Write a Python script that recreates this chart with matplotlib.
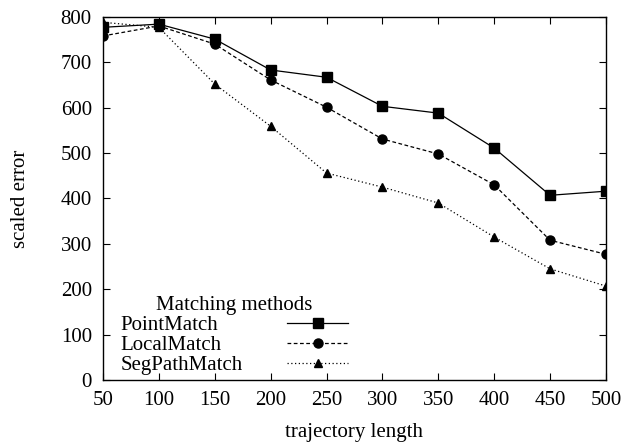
import matplotlib
matplotlib.use('Agg')
import matplotlib.pyplot as plt

plt.rcParams['font.family'] = ['Liberation Serif', 'DejaVu Serif']

lengths = [50, 100, 150, 200, 250, 300, 350, 400, 450, 500]
point_match = [777, 784, 751, 683, 667, 603, 588, 511, 407, 416]
local_match = [758, 780, 740, 661, 601, 531, 498, 430, 308, 277]
segpath_match = [788, 777, 652, 559, 456, 425, 390, 315, 245, 207]

fig = plt.figure(figsize=(6.26, 4.44), dpi=100)
ax = fig.add_axes([0.1645, 0.144, 0.8035, 0.818])

ax.plot(lengths, point_match, color='black', lw=0.9, ls='-', marker='s', ms=7, label='PointMatch')
ax.plot(lengths, local_match, color='black', lw=0.9, ls=(0, (3, 2)), marker='o', ms=6.5, label='LocalMatch')
ax.plot(lengths, segpath_match, color='black', lw=0.9, ls=(0, (1, 2)), marker='^', ms=5.5, label='SegPathMatch')

ax.set_xlim(50, 500)
ax.set_ylim(0, 800)
ax.set_xticks(lengths)
ax.set_yticks(range(0, 801, 100))
ax.tick_params(direction='in', top=True, right=True, labelsize=15, length=5, pad=8)
for s in ax.spines.values():
    s.set_linewidth(1.0)

ax.set_xlabel('trajectory length', fontsize=15, labelpad=9)
ax.set_ylabel('scaled error', fontsize=15, labelpad=22)

leg = ax.legend(title='Matching methods', loc='lower left', bbox_to_anchor=(0.019, -0.01),
                frameon=False, fontsize=15, title_fontsize=15, markerfirst=False,
                handlelength=2.95, labelspacing=0.02, borderaxespad=0.0, handletextpad=2.1)

# left-align the labels while keeping the line samples in one column
renderer = fig.canvas.get_renderer()
widths = [t.get_window_extent(renderer).width * 72 / fig.dpi for t in leg.get_texts()]
maxw = max(widths)
for col in leg._legend_handle_box.get_children():
    col.align = 'left'
    for row, w in zip(col.get_children(), widths):
        row.sep = row.sep + (maxw - w)

fig.savefig('out.png', dpi=100)
